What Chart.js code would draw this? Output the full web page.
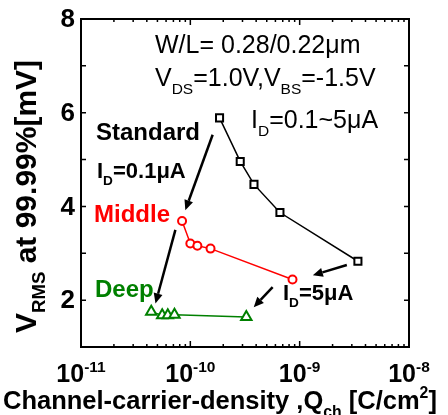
<!DOCTYPE html>
<html>
<head>
<meta charset="utf-8">
<script src="https://cdn.jsdelivr.net/npm/chart.js@4.4.1/dist/chart.umd.min.js"></script>
<style>
  body { margin: 0; background: #fff; }
  canvas { display: block; }
</style>
</head>
<body>
<canvas id="noiseChart" width="448" height="415"></canvas>
<script>
// channel carrier density [C/cm2] and V_RMS at 99.99% [mV], ID = 0.1 ~ 5 uA
const qStandard = [1.85e-10, 2.86e-10, 3.82e-10, 6.6e-10, 3.41e-9];
const vStandard = [5.89, 4.96, 4.47, 3.87, 2.83];
const qMiddle = [8.4e-11, 1.0e-10, 1.16e-10, 1.53e-10, 8.6e-10];
const vMiddle = [3.69, 3.21, 3.16, 3.10, 2.44];
const qDeep = [4.39e-11, 5.53e-11, 6.22e-11, 7.16e-11, 3.25e-10];
const vDeep = [1.75, 1.68, 1.68, 1.69, 1.64];

const yTicks = [2, 4, 6, 8];
const xDecades = [-11, -10, -9, -8];

// arrows in data coordinates: [q0, v0, q1, v1]
const arrows = [
    [1.6e-10, 5.53, 9.0e-11, 3.92],
    [7.3e-11, 3.50, 4.8e-11, 1.93],
    [2.7e-9, 2.75, 1.32e-9, 2.53],
    [5.66e-10, 2.28, 3.8e-10, 1.85]
];

const FONT = '"Liberation Sans", Arial, sans-serif';

function toPoints(xs, ys) {
    return xs.map((x, i) => ({x: x, y: ys[i]}));
}

// draw text made of normal / sub / sup pieces, returns end x
function drawRich(ctx, parts, x, y, size, bold, color) {
    ctx.fillStyle = color;
    ctx.textBaseline = 'alphabetic';
    ctx.textAlign = 'left';
    parts.forEach(p => {
        let s = size, dy = 0;
        if (p[1] === 'sub') { s = size * 0.62; dy = size * 0.3; }
        if (p[1] === 'sup') { s = size * 0.62; dy = -size * 0.42; }
        ctx.font = (bold ? 'bold ' : '') + s + 'px ' + FONT;
        ctx.fillText(p[0], x, y + dy);
        x += ctx.measureText(p[0]).width;
    });
    return x;
}

function richWidth(ctx, parts, size, bold) {
    let w = 0;
    parts.forEach(p => {
        const s = p[1] === 'n' ? size : size * 0.62;
        ctx.font = (bold ? 'bold ' : '') + s + 'px ' + FONT;
        w += ctx.measureText(p[0]).width;
    });
    return w;
}

const decorations = {
    id: 'decorations',
    afterDraw(chart) {
        const ctx = chart.ctx;
        const a = chart.chartArea;
        const xs = chart.scales.x, ys = chart.scales.y;
        ctx.save();

        // frame
        ctx.strokeStyle = '#000';
        ctx.lineWidth = 2;
        ctx.strokeRect(a.left, a.top, a.right - a.left, a.bottom - a.top);

        // inward ticks
        ctx.lineWidth = 1.5;
        ctx.beginPath();
        for (let v = 1; v <= 8; v++) {
            const py = ys.getPixelForValue(v);
            ctx.moveTo(a.left, py); ctx.lineTo(a.left + 5, py);
            ctx.moveTo(a.right, py); ctx.lineTo(a.right - 5, py);
        }
        for (let d = -11; d < -8; d++) {
            for (let m = 1; m <= 9; m++) {
                const px = xs.getPixelForValue(m * Math.pow(10, d));
                const len = m === 1 ? 6 : 3;
                ctx.moveTo(px, a.bottom); ctx.lineTo(px, a.bottom - len);
                ctx.moveTo(px, a.top); ctx.lineTo(px, a.top + len);
            }
        }
        ctx.stroke();

        // y tick labels
        ctx.fillStyle = '#000';
        ctx.font = 'bold 26px ' + FONT;
        ctx.textAlign = 'right';
        ctx.textBaseline = 'middle';
        yTicks.forEach(v => ctx.fillText(String(v), a.left - 6, ys.getPixelForValue(v) + 1));

        // x tick labels 10^n
        xDecades.forEach(d => {
            const parts = [['10', 'n'], [String(d), 'sup']];
            const px = xs.getPixelForValue(Math.pow(10, d));
            const w = richWidth(ctx, parts, 25, true);
            drawRich(ctx, parts, px - w / 2, a.bottom + 35, 25, true, '#000');
        });

        // x axis title
        const xt = [['Channel-carrier-density ,Q', 'n'], ['ch', 'sub'], [' [C/cm', 'n'], ['2', 'sup'], [']', 'n']];
        drawRich(ctx, xt, 3, 409, 25.5, true, '#000');

        // y axis title
        ctx.save();
        ctx.translate(36, 333);
        ctx.rotate(-Math.PI / 2);
        drawRich(ctx, [['V', 'n'], ['RMS', 'sub'], [' at 99.99%[mV]', 'n']], 0, 0, 30, true, '#000');
        ctx.restore();

        // condition text
        drawRich(ctx, [['W/L= 0.28/0.22\u03bcm', 'n']], 155, 53, 25, false, '#000');
        drawRich(ctx, [['V', 'n'], ['DS', 'sub'], ['=1.0V,V', 'n'], ['BS', 'sub'], ['=-1.5V', 'n']], 155, 86, 25, false, '#000');
        drawRich(ctx, [['I', 'n'], ['D', 'sub'], ['=0.1~5\u03bcA', 'n']], 251, 128, 25, false, '#000');

        // labels
        drawRich(ctx, [['Standard', 'n']], 96, 140, 24, true, '#000');
        drawRich(ctx, [['I', 'n'], ['D', 'sub'], ['=0.1\u03bcA', 'n']], 97, 178, 22, true, '#000');
        drawRich(ctx, [['Middle', 'n']], 94, 222, 24, true, '#ff0000');
        drawRich(ctx, [['Deep', 'n']], 95, 297, 24, true, '#008000');
        drawRich(ctx, [['I', 'n'], ['D', 'sub'], ['=5\u03bcA', 'n']], 283, 300, 22, true, '#000');

        // arrows
        arrows.forEach(r => {
            const x0 = xs.getPixelForValue(r[0]), y0 = ys.getPixelForValue(r[1]);
            const x1 = xs.getPixelForValue(r[2]), y1 = ys.getPixelForValue(r[3]);
            const ang = Math.atan2(y1 - y0, x1 - x0);
            const head = 10, half = 4.5;
            const bx = x1 - head * Math.cos(ang), by = y1 - head * Math.sin(ang);
            ctx.strokeStyle = '#000';
            ctx.lineWidth = 2.5;
            ctx.beginPath();
            ctx.moveTo(x0, y0);
            ctx.lineTo(bx, by);
            ctx.stroke();
            ctx.fillStyle = '#000';
            ctx.beginPath();
            ctx.moveTo(x1, y1);
            ctx.lineTo(bx + half * Math.sin(ang), by - half * Math.cos(ang));
            ctx.lineTo(bx - half * Math.sin(ang), by + half * Math.cos(ang));
            ctx.closePath();
            ctx.fill();
        });

        ctx.restore();
    }
};

const ctx = document.getElementById('noiseChart').getContext('2d');
const noiseChart = new Chart(ctx, {
    type: 'scatter',
    data: {
        datasets: [{
            label: 'Standard',
            data: toPoints(qStandard, vStandard),
            showLine: true,
            borderColor: '#000',
            borderWidth: 1.5,
            pointStyle: 'rect',
            pointRadius: 5,
            pointBorderWidth: 2,
            pointBackgroundColor: '#fff',
            pointBorderColor: '#000'
        }, {
            label: 'Middle',
            data: toPoints(qMiddle, vMiddle),
            showLine: true,
            borderColor: '#ff0000',
            borderWidth: 1.5,
            pointStyle: 'circle',
            pointRadius: 4,
            pointBorderWidth: 2,
            pointBackgroundColor: '#fff',
            pointBorderColor: '#ff0000'
        }, {
            label: 'Deep',
            data: toPoints(qDeep, vDeep),
            showLine: true,
            borderColor: '#008000',
            borderWidth: 1.5,
            pointStyle: 'triangle',
            pointRadius: 6,
            pointBorderWidth: 2,
            pointBackgroundColor: '#fff',
            pointBorderColor: '#008000'
        }]
    },
    options: {
        responsive: false,
        animation: false,
        devicePixelRatio: 1,
        layout: { padding: { top: 19, right: 39, left: 0, bottom: 0 } },
        plugins: { legend: { display: false }, tooltip: { enabled: false } },
        scales: {
            x: {
                type: 'logarithmic',
                min: 1e-11,
                max: 1e-8,
                ticks: { display: false },
                grid: { display: false },
                border: { display: false },
                afterFit(s) { s.height = 68; }
            },
            y: {
                type: 'linear',
                min: 1,
                max: 8,
                ticks: { display: false },
                grid: { display: false },
                border: { display: false },
                afterFit(s) { s.width = 81; }
            }
        }
    },
    plugins: [decorations]
});
</script>
</body>
</html>
